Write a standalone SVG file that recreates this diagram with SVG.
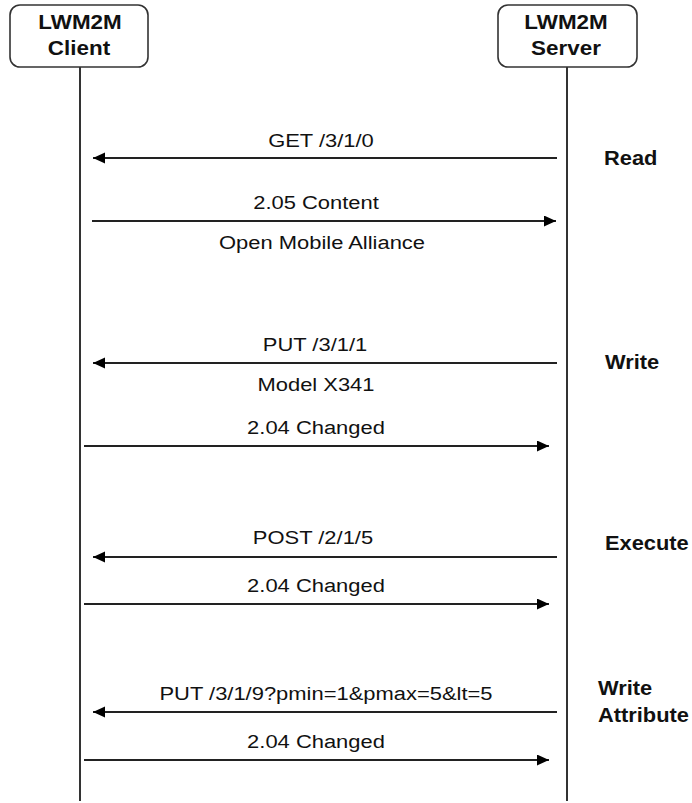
<svg xmlns="http://www.w3.org/2000/svg" width="692" height="803" viewBox="0 0 692 803">
<style>
.box{fill:#fff;stroke:#333;stroke-width:1.6}
.life{stroke:#333;stroke-width:2;fill:none}
.msg{stroke:#222;stroke-width:2;fill:none;marker-end:url(#ah)}
.t{font-family:"Liberation Sans",Arial,sans-serif;font-size:18.6px;fill:#111;text-anchor:middle}
.b{font-family:"Liberation Sans",Arial,sans-serif;font-size:19.5px;font-weight:bold;fill:#111}
.bc{text-anchor:middle}
</style>
<defs>
<marker id="ah" markerUnits="userSpaceOnUse" markerWidth="13" markerHeight="12" refX="12" refY="5.5" orient="auto">
<path d="M0,0 L12,5.5 L0,11 z" fill="#000"/>
</marker>
</defs>
<g id="client">
<rect class="box" x="10" y="5" width="138" height="62" rx="10"/>
<text class="b bc" transform="matrix(1.15 0 0 1 80 29)">LWM2M</text>
<text class="b bc" transform="matrix(1.15 0 0 1 79 55)">Client</text>
</g>
<g id="server">
<rect class="box" x="498" y="5" width="139" height="62" rx="10"/>
<text class="b bc" transform="matrix(1.15 0 0 1 566 29)">LWM2M</text>
<text class="b bc" transform="matrix(1.15 0 0 1 566 55)">Server</text>
</g>
<g id="connectors">
<line class="life" x1="80" y1="67" x2="80" y2="801"/>
<line class="life" x1="567" y1="67" x2="567" y2="801"/>
<line class="msg" x1="557" y1="158" x2="93" y2="158"/>
<line class="msg" x1="92" y1="221" x2="556" y2="221"/>
<line class="msg" x1="557" y1="363" x2="93" y2="363"/>
<line class="msg" x1="84" y1="446" x2="549" y2="446"/>
<line class="msg" x1="557" y1="557" x2="93" y2="557"/>
<line class="msg" x1="84" y1="604" x2="549" y2="604"/>
<line class="msg" x1="557" y1="712" x2="93" y2="712"/>
<line class="msg" x1="84" y1="760" x2="549" y2="760"/>
</g>
<g id="labels">
<text class="t" transform="matrix(1.18 0 0 1 321 147)">GET /3/1/0</text>
<text class="t" transform="matrix(1.18 0 0 1 316 209)">2.05 Content</text>
<text class="t" transform="matrix(1.18 0 0 1 322 249)">Open Mobile Alliance</text>
<text class="t" transform="matrix(1.18 0 0 1 315 351)">PUT /3/1/1</text>
<text class="t" transform="matrix(1.18 0 0 1 316 391)">Model X341</text>
<text class="t" transform="matrix(1.18 0 0 1 316 434)">2.04 Changed</text>
<text class="t" transform="matrix(1.18 0 0 1 313 544)">POST /2/1/5</text>
<text class="t" transform="matrix(1.18 0 0 1 316 592)">2.04 Changed</text>
<text class="t" transform="matrix(1.18 0 0 1 326 700)">PUT /3/1/9?pmin=1&amp;pmax=5&amp;lt=5</text>
<text class="t" transform="matrix(1.18 0 0 1 316 748)">2.04 Changed</text>
</g>
<g id="ops">
<text class="b" transform="matrix(1.12 0 0 1 604 165)">Read</text>
<text class="b" transform="matrix(1.12 0 0 1 605 369)">Write</text>
<text class="b" transform="matrix(1.12 0 0 1 605 550)">Execute</text>
<text class="b" transform="matrix(1.12 0 0 1 598 695)">Write</text>
<text class="b" transform="matrix(1.12 0 0 1 598 722)">Attribute</text>
</g>
</svg>
